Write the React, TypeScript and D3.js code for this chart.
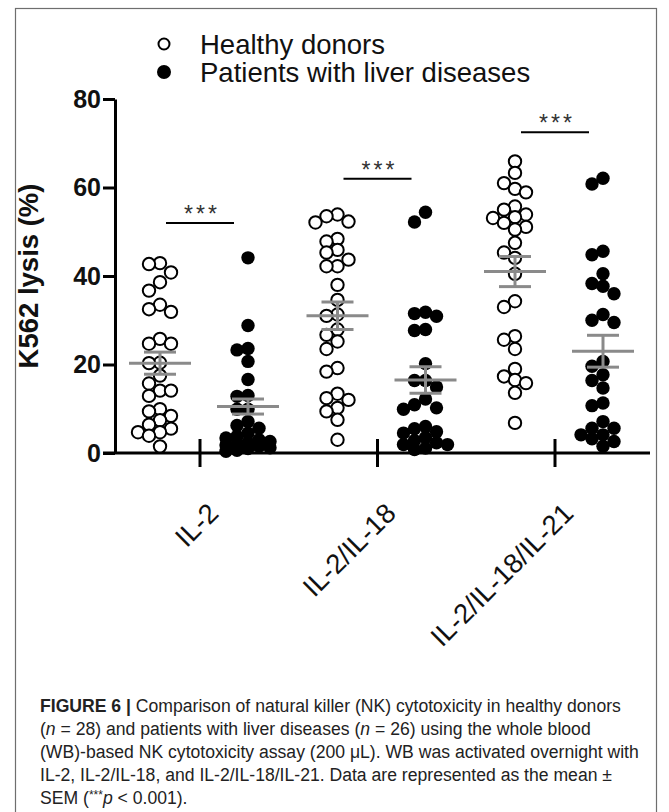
import React, { useEffect, useRef } from 'react';
import * as d3 from 'd3';

// categories and series
const categories = ['IL-2', 'IL-2/IL-18', 'IL-2/IL-18/IL-21'];
const seriesNames = ['Healthy donors', 'Patients with liver diseases'];

// K562 lysis (%) per donor
const healthyIL2 = [42.9, 42.7, 40.8, 38.6, 36.7, 33.5, 32.5, 31.9, 25.8, 24.7, 24.7, 20.4, 20.3, 17.5,
  15.7, 14.1, 14.1, 12.9, 9.9, 9.4, 8.4, 7.4, 6.4, 5.5, 4.7, 4.7, 3.9, 1.5];
const healthyIL2IL18 = [53.9, 53.5, 52.3, 52.1, 48.4, 47.8, 45.9, 45.3, 43.7, 42.2, 42.2, 38.0, 34.6, 31.3,
  31.0, 27.9, 26.7, 25.2, 23.5, 19.2, 18.4, 13.4, 12.4, 12.0, 10.2, 9.4, 7.5, 3.0];
const healthyIL2IL18IL21 = [65.9, 63.3, 61.0, 59.7, 58.9, 55.7, 55.0, 53.9, 53.3, 53.1, 52.0, 51.1, 50.5, 47.5,
  45.3, 44.1, 40.5, 34.3, 33.0, 26.4, 25.6, 23.5, 19.0, 17.3, 16.5, 15.8, 13.6, 6.8];
const patientsIL2 = [44.1, 28.8, 23.6, 23.3, 20.7, 16.6, 13.0, 12.8, 9.9, 9.9, 7.1, 6.2, 5.6,
  4.5, 3.8, 3.4, 3.0, 2.6, 2.3, 2.0, 1.8, 1.5, 1.2, 1.0, 0.6, 0.4];
const patientsIL2IL18 = [54.4, 52.2, 31.8, 31.5, 30.9, 27.9, 27.7, 20.2, 16.4, 16.4, 14.9, 12.2, 10.9,
  10.2, 9.9, 6.0, 5.5, 4.8, 4.5, 3.5, 2.8, 2.3, 1.9, 1.9, 1.1, 0.8];
const patientsIL2IL18IL21 = [62.1, 60.8, 45.6, 44.8, 40.5, 38.3, 37.7, 36.0, 31.3, 30.0, 29.5, 20.7, 19.6,
  17.7, 16.4, 14.7, 11.3, 10.7, 7.1, 5.6, 5.6, 4.1, 4.1, 3.2, 2.6, 1.5];

// mean ± SEM as drawn
const healthyMean = [20.3, 31.0, 41.0];
const healthySem = [2.5, 3.1, 3.4];
const patientsMean = [10.5, 16.5, 23.0];
const patientsSem = [1.7, 3.0, 3.6];

// significance bars
const sigLevel = [52, 62, 72.5];
const sigLabel = ['***', '***', '***'];

const yTicks = [0, 20, 40, 60, 80];

const caption = [
  [{ t: 'FIGURE 6 | ', b: true }, { t: 'Comparison of natural killer (NK) cytotoxicity in healthy donors' }],
  [{ t: '(' }, { t: 'n', i: true }, { t: ' = 28) and patients with liver diseases (' }, { t: 'n', i: true }, { t: ' = 26) using the whole blood' }],
  [{ t: '(WB)-based NK cytotoxicity assay (200 \u03bcL). WB was activated overnight with' }],
  [{ t: 'IL-2, IL-2/IL-18, and IL-2/IL-18/IL-21. Data are represented as the mean \u00b1' }],
  [{ t: 'SEM (' }, { t: '***', s: true }, { t: 'p', i: true }, { t: ' < 0.001).' }],
];

const font = 'Liberation Sans, Arial, sans-serif';

// GraphPad-like column scatter: slots every 11px, closest to centre first, some overlap allowed
function swarm(values: number[], y: (v: number) => number) {
  const step = 11;
  const minDist = 10.5;
  const slots = [0, -1, 1, -2, 2].map(k => k * step);
  const order = values.map((v, i) => i).sort((a, b) => values[b] - values[a]);
  const placed: { x: number; y: number }[] = [];
  const out = new Array(values.length).fill(0);
  order.forEach(i => {
    const py = y(values[i]);
    let best = slots[0];
    let bestScore = -Infinity;
    for (const s of slots) {
      const score = placed.length ? d3.min(placed, p => Math.hypot(p.x - s, p.y - py))! : Infinity;
      if (score >= minDist) { best = s; break; }
      if (score > bestScore) { bestScore = score; best = s; }
    }
    placed.push({ x: best, y: py });
    out[i] = best;
  });
  return out;
}

const App = () => {
  const svgRef = useRef<SVGSVGElement>(null);

  useEffect(() => {
    if (!svgRef.current) return;
    const svg = d3.select(svgRef.current);
    svg.selectAll('*').remove();

    const y = d3.scaleLinear().domain([0, 80]).range([453, 99]);
    const x = d3.scalePoint<string>().domain(categories).range([200, 555]);
    const sub = d3.scalePoint<string>().domain(seriesNames).range([-40, 48]);

    const healthy = [healthyIL2, healthyIL2IL18, healthyIL2IL18IL21];
    const patients = [patientsIL2, patientsIL2IL18, patientsIL2IL18IL21];

    // frame
    svg.append('rect')
      .attr('x', 15.5).attr('y', 8.5).attr('width', 641).attr('height', 830)
      .attr('fill', 'none').attr('stroke', '#6e6e6e').attr('stroke-width', 1.2);

    // legend
    const legend = svg.append('g');
    seriesNames.forEach((name, i) => {
      const ly = 44 + i * 28;
      legend.append('circle')
        .attr('cx', 164).attr('cy', ly).attr('r', i === 0 ? 5.5 : 6)
        .attr('fill', i === 0 ? '#fff' : '#000')
        .attr('stroke', '#000').attr('stroke-width', 2);
      legend.append('text')
        .attr('x', 200).attr('y', ly + 9.5)
        .attr('font-family', font).attr('font-size', 27.5).attr('fill', '#111')
        .text(name);
    });

    // y axis
    const yAxis = svg.append('g')
      .attr('transform', 'translate(115,0)')
      .call(d3.axisLeft(y).tickValues(yTicks).tickSize(12).tickSizeOuter(0).tickPadding(2).tickFormat(d3.format('d')));
    yAxis.select('.domain').attr('stroke', '#000').attr('stroke-width', 3);
    yAxis.selectAll('.tick line').attr('stroke', '#000').attr('stroke-width', 3);
    yAxis.selectAll('.tick text')
      .attr('font-family', font).attr('font-size', 25).attr('font-weight', 'bold').attr('fill', '#111');

    svg.append('text')
      .attr('transform', `translate(38,${(y(0) + y(80)) / 2}) rotate(-90)`)
      .attr('text-anchor', 'middle')
      .attr('font-family', font).attr('font-size', 27.5).attr('font-weight', 'bold').attr('fill', '#111')
      .text('K562 lysis (%)');

    // x axis
    const xa = svg.append('g');
    xa.append('line')
      .attr('x1', 103).attr('x2', 650).attr('y1', y(0)).attr('y2', y(0))
      .attr('stroke', '#000').attr('stroke-width', 3);
    xa.selectAll('line.tick').data(categories).join('line')
      .attr('class', 'tick')
      .attr('x1', d => x(d)!).attr('x2', d => x(d)!)
      .attr('y1', y(0) - 14).attr('y2', y(0) + 14)
      .attr('stroke', '#000').attr('stroke-width', 3);
    xa.selectAll('text').data(categories).join('text')
      .attr('transform', d => `translate(${x(d)! + 20},515) rotate(-45)`)
      .attr('text-anchor', 'end')
      .attr('font-family', font).attr('font-size', 27.5).attr('fill', '#111')
      .text(d => d);

    // points
    categories.forEach((c, gi) => {
      [healthy[gi], patients[gi]].forEach((vals, si) => {
        const cx = x(c)! + sub(seriesNames[si])!;
        const offs = swarm(vals, y);
        svg.append('g').selectAll('circle').data(vals).join('circle')
          .attr('cx', (d, i) => cx + offs[i])
          .attr('cy', d => y(d))
          .attr('r', si === 0 ? 6.2 : 6.7)
          .attr('fill', si === 0 ? '#fff' : '#000')
          .attr('stroke', '#000')
          .attr('stroke-width', si === 0 ? 2 : 0);
      });
    });

    // mean ± SEM
    const grey = '#8a8a8a';
    categories.forEach((c, gi) => {
      [[healthyMean[gi], healthySem[gi]], [patientsMean[gi], patientsSem[gi]]].forEach(([m, s], si) => {
        const cx = x(c)! + sub(seriesNames[si])!;
        const g = svg.append('g').attr('stroke', grey).attr('stroke-width', 3);
        g.append('line').attr('x1', cx - 31).attr('x2', cx + 31).attr('y1', y(m)).attr('y2', y(m));
        g.append('line').attr('x1', cx).attr('x2', cx).attr('y1', y(m - s)).attr('y2', y(m + s));
        g.append('line').attr('x1', cx - 16).attr('x2', cx + 16).attr('y1', y(m + s)).attr('y2', y(m + s));
        g.append('line').attr('x1', cx - 16).attr('x2', cx + 16).attr('y1', y(m - s)).attr('y2', y(m - s));
      });
    });

    // significance
    categories.forEach((c, gi) => {
      svg.append('line')
        .attr('x1', x(c)! - 34).attr('x2', x(c)! + 34)
        .attr('y1', y(sigLevel[gi])).attr('y2', y(sigLevel[gi]))
        .attr('stroke', '#000').attr('stroke-width', 2);
      svg.append('text')
        .attr('x', x(c)! + 2).attr('y', y(sigLevel[gi]) - 1)
        .attr('text-anchor', 'middle')
        .attr('font-family', font).attr('font-size', 23).attr('letter-spacing', 3).attr('fill', '#333')
        .text(sigLabel[gi]);
    });

    // caption
    caption.forEach((line, li) => {
      const t = svg.append('text')
        .attr('x', 40).attr('y', 712 + li * 23)
        .attr('font-family', font).attr('font-size', 17.6).attr('fill', '#222');
      line.forEach((seg: any) => {
        const ts = t.append('tspan').text(seg.t);
        if (seg.b) ts.attr('font-weight', 'bold');
        if (seg.i) ts.attr('font-style', 'italic');
        if (seg.s) ts.attr('font-size', 12).attr('dy', -5);
        if (seg.t === 'p' && seg.i) ts.attr('dy', 5);
      });
    });
  }, []);

  return (
    <svg ref={svgRef} width={669} height={812}
      style={{ position: 'absolute', left: 0, top: 0, background: '#fff' }} />
  );
};

export default App;
